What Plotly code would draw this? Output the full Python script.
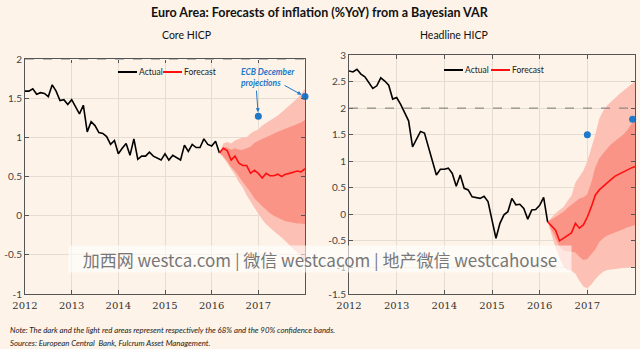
import plotly.graph_objects as go

# ---- data -------------------------------------------------------------
year_ticks = [2012, 2013, 2014, 2015, 2016, 2017]

# Core HICP, monthly, Jan 2012 - Mar 2016
core_actual = [1.59, 1.59, 1.62, 1.55, 1.57, 1.56, 1.52, 1.67, 1.59, 1.47,
               1.48, 1.42, 1.48, 1.39, 1.30, 1.41, 1.07, 1.20, 1.15, 1.06,
               1.05, 1.01, 0.91, 0.96, 0.79, 0.86, 0.92, 0.77, 0.98, 0.72,
               0.76, 0.76, 0.81, 0.76, 0.73, 0.71, 0.79, 0.71, 0.77, 0.74,
               0.71, 0.90, 0.82, 0.91, 0.87, 0.87, 0.98, 0.91, 0.89, 0.95, 0.80]
# Core HICP forecast, Mar 2016 - Jan 2018
core_fc = [0.80, 0.86, 0.83, 0.71, 0.76, 0.67, 0.64, 0.64, 0.54, 0.58, 0.54, 0.48,
           0.54, 0.51, 0.51, 0.53, 0.50, 0.53, 0.54, 0.56, 0.57, 0.56, 0.60]
core_hi68 = [0.80, 0.88, 0.87, 0.84, 0.86, 0.84, 0.84, 0.86, 0.88, 0.93, 0.96, 0.98,
             1.00, 1.02, 1.05, 1.07, 1.09, 1.11, 1.13, 1.15, 1.17, 1.19, 1.22]
core_lo68 = [0.80, 0.76, 0.70, 0.62, 0.57, 0.50, 0.43, 0.36, 0.30, 0.22, 0.17, 0.12,
             0.07, 0.03, 0.00, -0.03, -0.05, -0.07, -0.08, -0.09, -0.10, -0.10, -0.11]
core_hi90 = [0.80, 0.92, 0.94, 0.92, 0.96, 0.98, 1.00, 1.00, 1.05, 1.08, 1.10, 1.15,
             1.18, 1.22, 1.25, 1.28, 1.32, 1.36, 1.40, 1.45, 1.50, 1.55, 1.62]
core_lo90 = [0.80, 0.74, 0.67, 0.60, 0.52, 0.43, 0.36, 0.26, 0.18, 0.10, 0.02, -0.05,
             -0.11, -0.16, -0.20, -0.24, -0.28, -0.32, -0.37, -0.42, -0.47, -0.52, -0.58]

# Headline HICP, monthly, Jan 2012 - Mar 2016
head_actual = [2.70, 2.68, 2.73, 2.64, 2.59, 2.47, 2.37, 2.42, 2.57, 2.51,
               2.43, 2.17, 2.20, 2.07, 1.90, 1.76, 1.27, 1.43, 1.56, 1.53,
               1.27, 0.99, 0.74, 0.85, 0.85, 0.87, 0.77, 0.53, 0.74, 0.49,
               0.46, 0.33, 0.31, 0.30, 0.34, 0.24, -0.11, -0.45, -0.17, -0.01,
               0.05, 0.30, 0.18, 0.19, 0.11, -0.09, 0.08, 0.09, 0.17, 0.32, -0.14]
head_fc = [-0.14, -0.23, -0.30, -0.50, -0.45, -0.41, -0.35, -0.17, -0.26, -0.20, -0.05, 0.14,
           0.36, 0.46, 0.53, 0.60, 0.66, 0.72, 0.76, 0.80, 0.84, 0.87, 0.90]
head_hi68 = [-0.14, -0.10, -0.05, 0.00, 0.05, 0.12, 0.18, 0.25, 0.30, 0.32, 0.38, 0.60,
             0.88, 1.05, 1.15, 1.24, 1.32, 1.38, 1.44, 1.50, 1.58, 1.68, 1.80]
head_lo68 = [-0.14, -0.30, -0.45, -0.60, -0.68, -0.70, -0.70, -0.72, -0.80, -0.86, -0.84, -0.76,
             -0.66, -0.52, -0.45, -0.40, -0.37, -0.34, -0.31, -0.28, -0.25, -0.22, -0.20]
head_hi90 = [-0.14, -0.05, 0.02, 0.08, 0.14, 0.25, 0.35, 0.60, 0.70, 0.82, 1.00, 1.25,
             1.50, 1.80, 1.95, 2.05, 2.12, 2.20, 2.26, 2.32, 2.38, 2.44, 2.50]
head_lo90 = [-0.14, -0.40, -0.62, -0.82, -0.98, -1.05, -1.06, -1.12, -1.25, -1.36, -1.39, -1.32,
             -1.22, -1.14, -1.08, -1.05, -1.04, -1.03, -1.02, -1.01, -1.00, -0.99, -0.98]

# ECB December projections
ecb_core_x = [2017.0, 2018.0]
ecb_core = [1.27, 1.52]
ecb_head_x = [2017.0, 2017.95]
ecb_head = [1.50, 1.79]

# ---- styling ----------------------------------------------------------
BG = "#FDF3E8"
GRID = "#E6DDD2"
LIGHT = "rgb(253,192,180)"
DARK = "rgb(249,148,134)"
RED = "#FF1010"
BLUE = "#1F78C8"
SANS = "Lato, 'DejaVu Sans', sans-serif"
SERIF = "'DejaVu Serif', 'Liberation Serif', serif"
W, H = 640.0, 349.0

t_act = [2012 + i / 12 for i in range(len(core_actual))]
t_fc = [2012 + (len(core_actual) - 1 + i) / 12 for i in range(len(core_fc))]

fig = go.Figure()


def band(hi, lo, color, xa, ya):
    fig.add_trace(go.Scatter(
        x=t_fc + t_fc[::-1], y=hi + lo[::-1], fill="toself", fillcolor=color,
        line=dict(width=0), mode="lines", hoverinfo="skip", showlegend=False,
        xaxis=xa, yaxis=ya))


def panel(actual, fc, hi68, lo68, hi90, lo90, ex, ey, xa, ya):
    band(hi90, lo90, LIGHT, xa, ya)
    band(hi68, lo68, DARK, xa, ya)
    fig.add_trace(go.Scatter(x=t_act, y=actual, mode="lines", name="Actual",
                             line=dict(color="black", width=1.6), showlegend=False,
                             xaxis=xa, yaxis=ya))
    fig.add_trace(go.Scatter(x=t_fc, y=fc, mode="lines", name="Forecast",
                             line=dict(color=RED, width=1.6), showlegend=False,
                             xaxis=xa, yaxis=ya))
    fig.add_trace(go.Scatter(x=ex, y=ey, mode="markers", showlegend=False,
                             marker=dict(color=BLUE, size=7), cliponaxis=False,
                             xaxis=xa, yaxis=ya))


panel(core_actual, core_fc, core_hi68, core_lo68, core_hi90, core_lo90,
      ecb_core_x, ecb_core, "x", "y")
panel(head_actual, head_fc, head_hi68, head_lo68, head_hi90, head_lo90,
      ecb_head_x, ecb_head, "x2", "y2")

xcommon = dict(range=[2012, 2018], tickvals=year_ticks, ticktext=[str(v) for v in year_ticks],
               showgrid=True, gridcolor=GRID, gridwidth=1, zeroline=False, automargin=False,
               showline=True, linecolor="#555555", linewidth=1, mirror="ticks",
               ticks="inside", ticklen=4, tickcolor="#555555", ticklabelstandoff=2,
               tickfont=dict(family=SERIF, size=10, color="#333333"))
ycommon = dict(showgrid=True, gridcolor=GRID, gridwidth=1, zeroline=False, automargin=False,
               showline=True, linecolor="#555555", linewidth=1, mirror="ticks",
               ticks="inside", ticklen=4, tickcolor="#555555",
               tickfont=dict(family=SANS, size=10, color="#444444"))

fig.update_layout(
    width=640, height=349, margin=dict(l=0, r=0, t=0, b=0),
    paper_bgcolor=BG, plot_bgcolor=BG, showlegend=False,
    xaxis=dict(domain=[25 / W, 305 / W], anchor="y", **xcommon),
    yaxis=dict(domain=[1 - 294 / H, 1 - 59 / H], range=[-1, 2], anchor="x",
               tickvals=[-1, -0.5, 0, 0.5, 1, 1.5, 2],
               ticktext=["-1", "-0.5", "0", "0.5", "1", "1.5", "2"], **ycommon),
    xaxis2=dict(domain=[349 / W, 635 / W], anchor="y2", **xcommon),
    yaxis2=dict(domain=[1 - 294 / H, 1 - 55 / H], range=[-1.5, 3], anchor="x2",
                tickvals=[-1.5, -1, -0.5, 0, 0.5, 1, 1.5, 2, 2.5, 3],
                ticktext=["-1.5", "-1", "-0.5", "0", "0.5", "1", "1.5", "2", "2.5", "3"],
                **ycommon),
)

# reference lines at 2% (the left one replaces the top frame line)
fig.add_shape(type="line", xref="x", yref="y", x0=2012, x1=2018, y0=2, y1=2,
              line=dict(color=BG, width=2), layer="above")
for xa, ya in (("x", "y"), ("x2", "y2")):
    fig.add_shape(type="line", xref=xa, yref=ya, x0=2012, x1=2018, y0=2, y1=2,
                  line=dict(color="#777777", width=1, dash="dash"), layer="above")

# compact legends: short line sample followed by the label
legend_items = [
    (118, 72, "black", "Actual"), (163, 72, RED, "Forecast"),
    (444, 70, "black", "Actual"), (491, 70, RED, "Forecast"),
]
for px, py, col, label in legend_items:
    fig.add_shape(type="line", xref="paper", yref="paper",
                  x0=px / W, x1=(px + 19) / W, y0=1 - py / H, y1=1 - py / H,
                  line=dict(color=col, width=2))
    fig.add_annotation(text=label, x=(px + 20) / W, y=1 - py / H, xref="paper", yref="paper",
                       xanchor="left", yanchor="middle", showarrow=False, borderpad=0,
                       font=dict(family=SANS, size=8.5, color="#222222"))

# titles
fig.add_annotation(text="<b>Euro Area: Forecasts of inflation (%YoY) from a Bayesian VAR</b>",
                   x=0.5, y=1 - 12 / H, xref="paper", yref="paper", showarrow=False,
                   yanchor="middle", font=dict(family=SANS, size=12.5, color="#111111"))
fig.add_annotation(text="Core HICP", x=160 / W, y=1 - 35 / H, xref="paper", yref="paper",
                   showarrow=False, yanchor="middle",
                   font=dict(family=SANS, size=10.5, color="#111111"))
fig.add_annotation(text="Headline HICP", x=490 / W, y=1 - 35 / H, xref="paper", yref="paper",
                   showarrow=False, yanchor="middle",
                   font=dict(family=SANS, size=10.5, color="#111111"))

# ECB projections label and arrows
fig.add_annotation(text="<b><i>ECB December<br>projections</i></b>", x=2016.585, y=1.76,
                   xref="x", yref="y", xanchor="left", yanchor="middle", align="left",
                   showarrow=False, font=dict(family=SANS, size=8.5, color=BLUE))
fig.add_annotation(text="", x=ecb_core_x[0], y=ecb_core[0], xref="x", yref="y",
                   ax=-2, ay=-27, showarrow=True, arrowhead=2, arrowsize=0.8,
                   arrowwidth=1, arrowcolor=BLUE, standoff=4)
fig.add_annotation(text="", x=ecb_core_x[1], y=ecb_core[1], xref="x", yref="y",
                   ax=-22, ay=-12, showarrow=True, arrowhead=2, arrowsize=0.8,
                   arrowwidth=1, arrowcolor=BLUE, standoff=4)

# footnotes
fig.add_annotation(text="<i>Note: The dark and the light red areas represent respectively the 68% and the 90% confidence bands.</i>",
                   x=8 / W, y=1 - 330 / H, xref="paper", yref="paper", xanchor="left",
                   yanchor="middle", showarrow=False,
                   font=dict(family=SANS, size=7.8, color="#222222"))
fig.add_annotation(text="<i>Sources: European Central  Bank, Fulcrum Asset Management.</i>",
                   x=8 / W, y=1 - 343 / H, xref="paper", yref="paper", xanchor="left",
                   yanchor="middle", showarrow=False,
                   font=dict(family=SANS, size=7.8, color="#222222"))

# site watermark
fig.add_annotation(text="加西网 westca.com | 微信 westcacom | 地产微信 westcahouse",
                   x=320 / W, y=1 - 273 / H, xref="paper", yref="paper", showarrow=False,
                   width=500, height=24, bgcolor="rgba(255,255,255,0.6)",
                   font=dict(family="'Noto Sans CJK SC', sans-serif", size=17, color="#777777"))

fig.write_html("out.html")
